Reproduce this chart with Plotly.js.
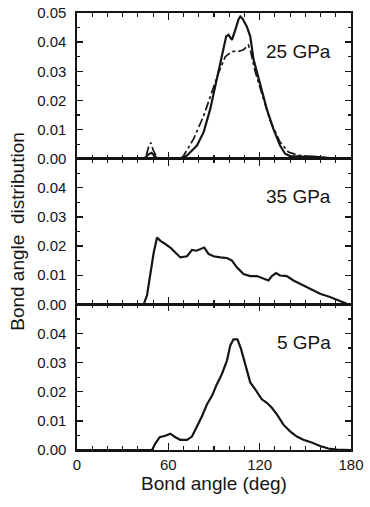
<!DOCTYPE html>
<html>
<head>
<meta charset="utf-8">
<script src="https://cdn.plot.ly/plotly-3.0.1.min.js"></script>
<style>html,body{margin:0;padding:0;background:#fff;}#chart{width:370px;height:507px;}</style>
</head>
<body>
<div id="chart"></div>
<script>
// 25 GPa, solid curve
const ang25a = [0, 44, 47, 49, 51, 53, 68, 72.3, 78.8, 83.2, 87.5, 90.8, 94.1, 96.3, 98, 99.5, 101.8, 104, 106.1, 107.3, 108.8, 111.6, 113.8, 116, 118.2, 121.4, 124.7, 129, 133.4, 136.7, 140, 145, 150, 155, 160, 165, 170, 180];
const val25a = [0, 0, 0.0015, 0.002, 0.001, 0, 0, 0.0011, 0.0045, 0.0091, 0.017, 0.025, 0.0329, 0.0385, 0.042, 0.0425, 0.0408, 0.0442, 0.0478, 0.0488, 0.048, 0.0453, 0.042, 0.034, 0.0295, 0.0238, 0.017, 0.0102, 0.0045, 0.0017, 0.0009, 0.0008, 0.0006, 0.0007, 0.0004, 0.0003, 0, 0];
// 25 GPa, dash-dot curve
const ang25b = [0, 45, 47, 48.5, 50, 52, 54, 68, 70, 76.6, 83.2, 88.7, 93, 97.4, 101.8, 106, 109.4, 112.5, 114, 117, 121.4, 126.9, 133.4, 138.9, 145, 150, 155, 160, 165, 170, 180];
const val25b = [0, 0, 0.004, 0.0055, 0.003, 0.001, 0, 0, 0.001, 0.0068, 0.0147, 0.0227, 0.0295, 0.035, 0.0368, 0.0368, 0.0374, 0.039, 0.037, 0.03, 0.0225, 0.013, 0.0057, 0.0023, 0.0012, 0.0008, 0.0006, 0.0005, 0.0003, 0, 0];
// 35 GPa
const ang35 = [0, 43.8, 46, 48.2, 50.4, 52.6, 54.8, 58, 61.3, 64.6, 67.9, 72.3, 75.5, 78.4, 81, 83.6, 86.4, 89.7, 94.1, 98.5, 101.8, 105, 109.4, 113.8, 118.2, 122.5, 125.8, 128, 130.8, 133.4, 137.8, 142.2, 148.7, 155.3, 159.7, 166.2, 172.8, 177.2, 180];
const val35 = [0, 0, 0.0031, 0.0099, 0.0178, 0.0229, 0.0218, 0.0207, 0.0195, 0.0178, 0.0161, 0.0165, 0.0187, 0.0184, 0.019, 0.0195, 0.0173, 0.0165, 0.0161, 0.0159, 0.015, 0.0127, 0.0104, 0.0097, 0.0097, 0.009, 0.0082, 0.0097, 0.0107, 0.0099, 0.0097, 0.0082, 0.0065, 0.0048, 0.0036, 0.0025, 0.001, 0.0002, 0];
// 5 GPa
const ang5 = [0, 49.3, 51.5, 54.3, 58, 61.3, 64.6, 67.9, 72.3, 75.5, 78.8, 82.1, 85.4, 88.7, 91.9, 95.2, 98.5, 100.7, 102.8, 105.4, 107.7, 110.5, 113.8, 117, 121.4, 124.7, 128, 131.3, 135.6, 140, 144.4, 148.7, 154.2, 159.7, 165.1, 170.6, 180];
const val5 = [0, 0, 0.0023, 0.0044, 0.0049, 0.0056, 0.0044, 0.0035, 0.0035, 0.0046, 0.0081, 0.0116, 0.0157, 0.0186, 0.0226, 0.0261, 0.0307, 0.0359, 0.038, 0.038, 0.0348, 0.029, 0.0232, 0.0209, 0.0174, 0.0162, 0.0145, 0.0122, 0.0087, 0.0064, 0.0046, 0.0035, 0.0026, 0.0014, 0.0005, 0.0001, 0];

const xTickVals = [0, 60, 120, 180];
const xTickText = ['0', '60', '120', '180'];
const yTickVals = [0, 0.01, 0.02, 0.03, 0.04, 0.05];
const yTickTextTop = ['0.00', '0.01', '0.02', '0.03', '0.04', '0.05'];
const yTickTextLow = ['0.00', '0.01', '0.02', '0.03', '0.04', ''];
const panelLabels = ['25 GPa', '35 GPa', '5 GPa'];

const ink = '#151515';
const FONT = 'Liberation Sans, Arial, Helvetica, sans-serif';

const traces = [
  {x: ang25a, y: val25a, xaxis: 'x3', yaxis: 'y3', mode: 'lines', line: {color: ink, width: 2.2}},
  {x: ang25b, y: val25b, xaxis: 'x3', yaxis: 'y3', mode: 'lines', line: {color: ink, width: 1.7, dash: 'dashdot'}},
  {x: ang35, y: val35, xaxis: 'x2', yaxis: 'y2', mode: 'lines', line: {color: ink, width: 2.2}},
  {x: ang5, y: val5, xaxis: 'x', yaxis: 'y', mode: 'lines', line: {color: ink, width: 2.2}}
];

function xax(anchor, labels) {
  return {
    anchor: anchor, domain: [0, 1], range: [0, 180],
    tickmode: 'array', tickvals: xTickVals, ticktext: xTickText,
    showticklabels: labels, ticks: 'inside', ticklen: 7, tickwidth: 1.3, tickcolor: ink,
    minor: {dtick: 10, tick0: 0, ticks: 'inside', ticklen: 4, tickwidth: 1.2, tickcolor: ink, showgrid: false},
    showline: true, linecolor: ink, linewidth: 1.6, mirror: 'allticks',
    showgrid: false, zeroline: false, fixedrange: true,
    tickfont: {family: FONT, size: 15, color: ink}
  };
}
function yax(anchor, domain, text) {
  return {
    anchor: anchor, domain: domain, range: [0, 0.05],
    tickmode: 'array', tickvals: yTickVals, ticktext: text,
    ticks: 'inside', ticklen: 6, tickwidth: 1.3, tickcolor: ink,
    minor: {dtick: 0.005, tick0: 0, ticks: 'inside', ticklen: 3, tickwidth: 1.2, tickcolor: ink, showgrid: false},
    showline: true, linecolor: ink, linewidth: 1.6, mirror: 'allticks',
    showgrid: false, zeroline: false, fixedrange: true,
    ticklabelstandoff: 6,
    tickfont: {family: FONT, size: 15, color: ink}
  };
}

const xBottom = xax('y', true);
xBottom.title = {text: 'Bond angle (deg)', font: {family: FONT, size: 19, color: ink}, standoff: 5};
const yMid = yax('x2', [1/3, 2/3], yTickTextLow);
yMid.title = {text: 'Bond angle\u00a0 distribution', font: {family: FONT, size: 19, color: ink}, standoff: 7};

const layout = {
  width: 370, height: 507,
  margin: {l: 77, r: 19, t: 13, b: 57},
  paper_bgcolor: '#fff', plot_bgcolor: '#fff',
  showlegend: false,
  xaxis: xBottom,
  xaxis2: xax('y2', false),
  xaxis3: xax('y3', false),
  yaxis: yax('x', [0, 1/3], yTickTextLow),
  yaxis2: yMid,
  yaxis3: yax('x3', [2/3, 1], yTickTextTop),
  annotations: [
    {text: panelLabels[0], xref: 'paper', yref: 'paper', x: 0.934, y: 0.911, xanchor: 'right', yanchor: 'middle', showarrow: false, font: {family: FONT, size: 19, color: ink}},
    {text: panelLabels[1], xref: 'paper', yref: 'paper', x: 0.934, y: 0.579, xanchor: 'right', yanchor: 'middle', showarrow: false, font: {family: FONT, size: 19, color: ink}},
    {text: panelLabels[2], xref: 'paper', yref: 'paper', x: 0.934, y: 0.245, xanchor: 'right', yanchor: 'middle', showarrow: false, font: {family: FONT, size: 19, color: ink}}
  ]
};

Plotly.newPlot('chart', traces, layout, {displayModeBar: false, staticPlot: true});
</script>
</body>
</html>
